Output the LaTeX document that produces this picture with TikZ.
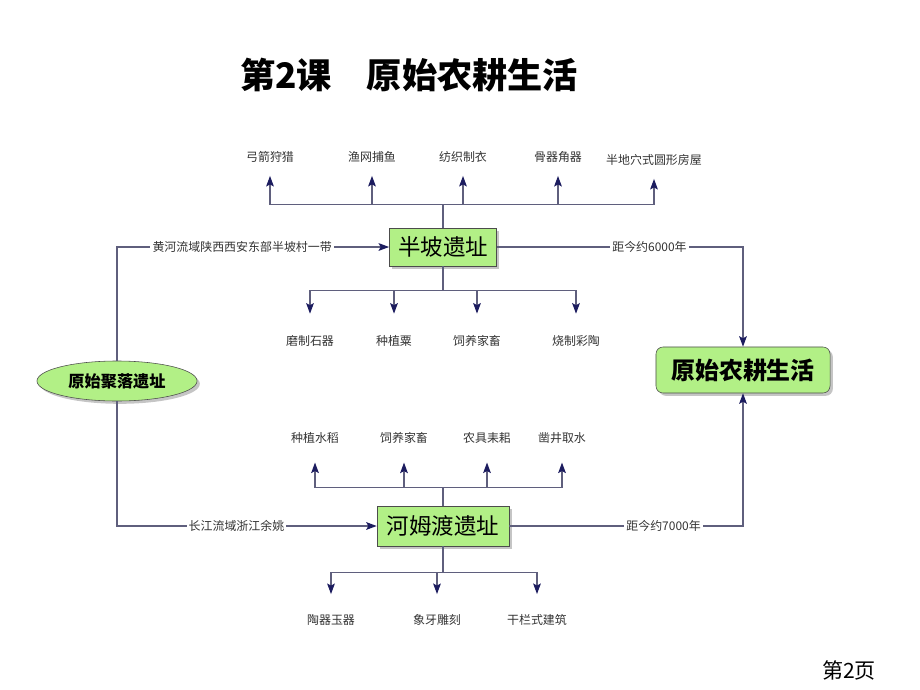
\documentclass[tikz,border=0pt]{standalone}
\usepackage{fontspec}
\setmainfont{Noto Sans CJK SC}
\usetikzlibrary{arrows.meta,shapes.geometric,shadows}
\definecolor{sitegreen}{RGB}{178,240,134}
\definecolor{linegray}{RGB}{95,95,125}
\definecolor{tipblue}{RGB}{28,28,95}
\begin{document}
\begin{tikzpicture}
[x=0.025cm, y=-0.025cm,
 every node/.style={font=\fontsize{8.5}{10}\selectfont, text=black!80},
 site/.style={draw=black!70, fill=sitegreen, text=black, inner sep=2pt,
   drop shadow={shadow xshift=2pt, shadow yshift=-2pt, fill=black!45}},
 link/.style={draw=linegray, line width=0.8pt},
 tip/.style={link, shorten >=#1, -{Stealth[color=tipblue, length=7.5pt, width=5.5pt, inset=1.5pt]}},
 tip/.default=0pt,
 tag/.style={fill=white, inner sep=1.5pt}]
\useasboundingbox (0,0) rectangle (920,690);

\node[font=\bfseries\fontsize{25}{28}\selectfont, text=black] (title) at (409,75) {第2课\quad 原始农耕生活};

\node[site, minimum width=2.68cm, minimum height=0.95cm, font=\fontsize{16}{18}\selectfont] (banpo) at (443,247) {半坡遗址};
\node[site, minimum width=3.3cm, minimum height=1cm, font=\fontsize{16}{18}\selectfont] (hemudu) at (443,526) {河姆渡遗址};
\node[site, rounded corners=5pt, minimum width=4.35cm, minimum height=1.15cm, font=\bfseries\fontsize{17}{20}\selectfont] (farm) at (743,370) {原始农耕生活};
\node[site, ellipse, minimum width=4cm, minimum height=1cm, font=\bfseries\fontsize{11.5}{13}\selectfont] (village) at (117,381) {原始聚落遗址};

\foreach \n/\x/\y/\t in {up1/270/157/弓箭狩猎, up2/372/157/渔网捕鱼, up3/463/157/纺织制衣, up4/558/157/骨器角器, up5/654/160/半地穴式圆形房屋}
{
  \node (\n) at (\x,\y) {\t};
  \draw[tip=6pt] (banpo.north) -- ++(0,-23) -| (\n.south);
}
\foreach \n/\x/\t in {dn1/310/磨制石器, dn2/394/种植粟, dn3/477/饲养家畜, dn4/576/烧制彩陶}
{
  \node (\n) at (\x,341) {\t};
  \draw[tip=12pt] (banpo.south) -- ++(0,24) -| (\n.north);
}
\foreach \n/\x/\t in {hu1/315/种植水稻, hu2/404/饲养家畜, hu3/487/农具耒耜, hu4/562/凿井取水}
{
  \node (\n) at (\x,438) {\t};
  \draw[tip=10pt] (hemudu.north) -- ++(0,-18) -| (\n.south);
}
\foreach \n/\x/\t in {hd1/331/陶器玉器, hd2/437/象牙雕刻, hd3/537/干栏式建筑}
{
  \node (\n) at (\x,620) {\t};
  \draw[tip=11pt] (hemudu.south) -- ++(0,26) -| (\n.north);
}

\draw[tip] (village.north) |- node[tag, pos=0.73] {黄河流域陕西西安东部半坡村一带} (banpo.west);
\draw[tip] (village.south) |- node[tag, pos=0.73] {长江流域浙江余姚} (hemudu.west);
\draw[tip] (banpo.east) -| node[tag, pos=0.31] {距今约6000年} (farm.north);
\draw[tip] (hemudu.east) -| node[tag, pos=0.33] {距今约7000年} (farm.south);

\node[font=\fontsize{15}{18}\selectfont, text=black] (page) at (849,670) {第2页};
\end{tikzpicture}
\end{document}
